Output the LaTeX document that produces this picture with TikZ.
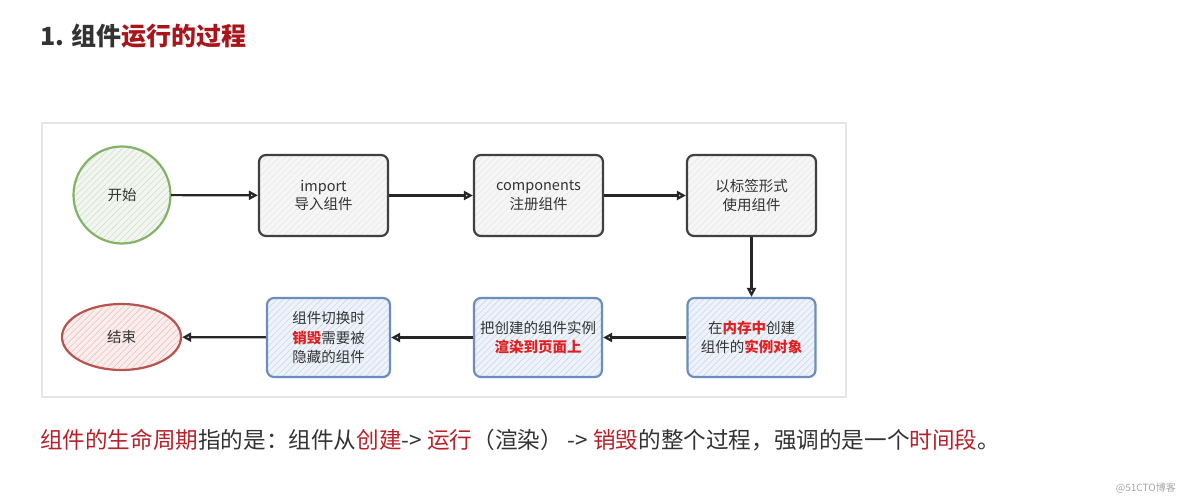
\documentclass[tikz,border=0pt]{standalone}
\usepackage{fontspec}
\setmainfont{Noto Sans CJK SC}
\usetikzlibrary{arrows.meta,patterns.meta,shapes.geometric}
\definecolor{titlegray}{HTML}{333333}
\definecolor{titlered}{HTML}{A8161C}
\definecolor{textred}{HTML}{E02020}
\definecolor{linered}{HTML}{B8202A}
\definecolor{greenb}{HTML}{82B366}
\definecolor{greenf}{HTML}{F1F7EE}
\definecolor{blueb}{HTML}{6C8EBF}
\definecolor{bluef}{HTML}{EEF3FB}
\definecolor{redb}{HTML}{B85450}
\definecolor{redf}{HTML}{FBEDEC}
\definecolor{grayf}{HTML}{F6F6F6}
\definecolor{txt}{HTML}{333333}
\tikzset{
  hatch/.style={pattern={Lines[angle=45,distance=4.5pt,line width=0.6pt]},pattern color=#1},
  graybox/.style={draw=black!75, line width=2.2pt, rounded corners=7pt, minimum width=129pt, minimum height=81pt,
    preaction={fill=grayf}, hatch=black!9, align=center, text=txt, font=\fontsize{14.5}{18.5}\selectfont},
  bluebox/.style={draw=blueb, line width=2.2pt, rounded corners=7pt, minimum width=128pt, minimum height=79pt,
    preaction={fill=bluef}, hatch=blueb!35, align=center, text=txt, font=\fontsize{14.5}{19.5}\selectfont},
  flow/.style={-{Triangle[open,length=9pt,width=9pt]}, line width=2.2pt, black!85},
}
\begin{document}
\begin{tikzpicture}[x=1pt,y=-1pt]
\useasboundingbox (0,0) rectangle (1184,500);
\fill[white] (0,0) rectangle (1184,500);
% title
\node[anchor=base west, inner sep=0, font=\fontsize{25}{25}\selectfont\bfseries] (title) at (40,46)
  {\textcolor{titlegray}{1. 组件}\textcolor{titlered}{运行的过程}};
% frame
\draw[black!10, fill=white, line width=1.2pt] (42,123) rectangle (846,397);
% nodes
\node[circle, draw=greenb, line width=2.2pt, minimum size=97pt, preaction={fill=greenf}, hatch=black!15,
  text=txt, font=\fontsize{14.5}{18}\selectfont] (start) at (122,195) {开始};
\node[graybox] (imp) at (323.5,195.5) {import\\导入组件};
\node[graybox] (comp) at (538.5,195.5) {components\\注册组件};
\node[graybox] (use) at (751.5,195.5) {以标签形式\\使用组件};
\node[bluebox] (mem) at (751.5,337.5) {在\textcolor{textred}{\bfseries 内存中}创建\\组件的\textcolor{textred}{\bfseries 实例对象}};
\node[bluebox] (render) at (538,337.5) {把创建的组件实例\\\textcolor{textred}{\bfseries 渲染到页面上}};
\node[bluebox, minimum width=123pt] (destroy) at (328.5,337.5) {组件切换时\\\textcolor{textred}{\bfseries 销毁}需要被\\隐藏的组件};
\node[ellipse, draw=redb, line width=2.2pt, minimum width=119pt, minimum height=66pt, preaction={fill=redf}, hatch=redb!35,
  text=txt, font=\fontsize{14.5}{18}\selectfont] (end) at (121.5,337) {结束};
% connectors
\draw[flow] (start) -- (imp);
\draw[flow] (imp) -- (comp);
\draw[flow] (comp) -- (use);
\draw[flow] (use) -- (mem);
\draw[flow] (mem) -- (render);
\draw[flow] (render) -- (destroy);
\draw[flow] (destroy) -- (end);
% bottom text
\node[anchor=base west, inner sep=0, font=\fontsize{22.6}{23}\selectfont, text=txt] (summary) at (40,448)
  {\textcolor{linered}{组件的生命周期}指的是：组件从\textcolor{linered}{创建}-> \textcolor{linered}{运行}（渲染） -> \textcolor{linered}{销毁}的整个过程，强调的是一个\textcolor{linered}{时间段}。};
\node[anchor=base east, inner sep=0, font=\fontsize{10}{10}\selectfont, text=black!35] (wm) at (1176,491) {@51CTO博客};
\end{tikzpicture}
\end{document}
